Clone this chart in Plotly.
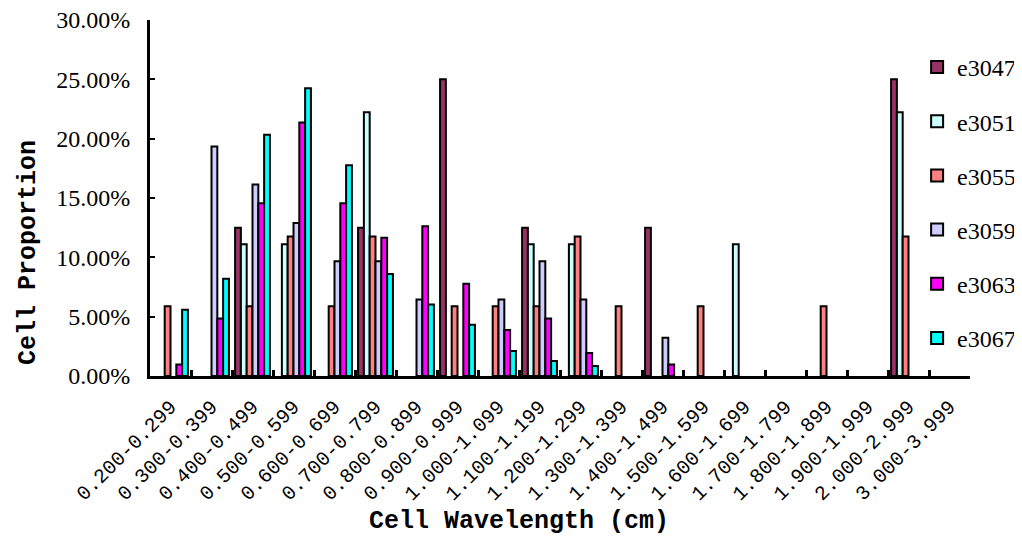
import plotly.graph_objects as go

categories = ["0.200-0.299", "0.300-0.399", "0.400-0.499", "0.500-0.599", "0.600-0.699",
              "0.700-0.799", "0.800-0.899", "0.900-0.999", "1.000-1.099", "1.100-1.199",
              "1.200-1.299", "1.300-1.399", "1.400-1.499", "1.500-1.599", "1.600-1.699",
              "1.700-1.799", "1.800-1.899", "1.900-1.999", "2.000-2.999", "3.000-3.999"]

e3047 = [0, 0, 12.50, 0, 0, 12.50, 0, 25.00, 0, 12.50, 0, 0, 12.50, 0, 0, 0, 0, 0, 25.00, 0]
e3051 = [0, 0, 11.11, 11.11, 0, 22.22, 0, 0, 0, 11.11, 11.11, 0, 0, 0, 11.11, 0, 0, 0, 22.22, 0]
e3055 = [5.88, 0, 5.88, 11.76, 5.88, 11.76, 0, 5.88, 5.88, 5.88, 11.76, 5.88, 0, 5.88, 0, 0, 5.88, 0, 11.76, 0]
e3059 = [0, 19.35, 16.13, 12.90, 9.68, 9.68, 6.45, 0, 6.45, 9.68, 6.45, 0, 3.23, 0, 0, 0, 0, 0, 0, 0]
e3063 = [0.97, 4.85, 14.56, 21.36, 14.56, 11.65, 12.62, 7.77, 3.88, 4.85, 1.94, 0, 0.97, 0, 0, 0, 0, 0, 0, 0]
e3067 = [5.58, 8.20, 20.34, 24.25, 17.75, 8.59, 6.03, 4.31, 2.11, 1.27, 0.85, 0, 0, 0, 0, 0, 0, 0, 0, 0]

series_names = ["e3047", "e3051", "e3055", "e3059", "e3063", "e3067"]
series_values = [e3047, e3051, e3055, e3059, e3063, e3067]
series_colors = ["#993366", "#CCFFFF", "#FF8080", "#CCCCFF", "#FF00FF", "#00FFFF"]

fig = go.Figure()
for name, vals, col in zip(series_names, series_values, series_colors):
    fig.add_trace(go.Bar(
        x=categories, y=[v if v else None for v in vals], name=name,
        legendgroup=name,
        marker=dict(color=col, line=dict(color="black", width=2)),
    ))

# the page body has an 8px margin, so the figure is 8px smaller than the window
fig.update_layout(
    width=1014, height=530,
    margin=dict(l=142, r=52, t=12, b=162, autoexpand=False),
    paper_bgcolor="white", plot_bgcolor="white",
    barmode="group", bargap=0.15, bargroupgap=0,
    showlegend=True,
    legend=dict(x=0.9355, y=0.93, xanchor="left", yanchor="top",
                font=dict(family="Liberation Serif", size=24, color="black"),
                tracegroupgap=20, bgcolor="rgba(0,0,0,0)"),
    font=dict(family="Liberation Serif", color="black"),
)

fig.update_xaxes(
    type="category", range=[-0.5, 19.5], automargin=False,
    showline=True, linecolor="black", linewidth=3,
    ticks="inside", tickson="boundaries", ticklen=6, tickwidth=3, tickcolor="black",
    tickangle=-45, tickfont=dict(family="Liberation Mono", size=20, color="black"),
    ticklabelstandoff=8, ticklabeloverflow="allow",
    showgrid=False, zeroline=False,
)
fig.update_yaxes(
    range=[0, 30], dtick=5, tickformat=".2f", ticksuffix="%", automargin=False,
    showline=True, linecolor="black", linewidth=3,
    ticks="inside", ticklen=5, tickwidth=2, tickcolor="black",
    tickfont=dict(family="Liberation Serif", size=24, color="black"),
    ticklabelstandoff=12, ticklabeloverflow="allow",
    showgrid=False, zeroline=False,
)

fig.add_annotation(text="<b>Cell Proportion</b>", xref="paper", yref="paper",
                   x=-0.1488, y=0.348, xanchor="center", yanchor="middle",
                   textangle=-90, showarrow=False,
                   font=dict(family="Liberation Mono", size=25, color="black"))
fig.add_annotation(text="<b>Cell Wavelength (cm)</b>", xref="paper", yref="paper",
                   x=0.45, y=-0.41, xanchor="center", yanchor="middle", showarrow=False,
                   font=dict(family="Liberation Mono", size=25, color="black"))

fig.write_html("out.html")
